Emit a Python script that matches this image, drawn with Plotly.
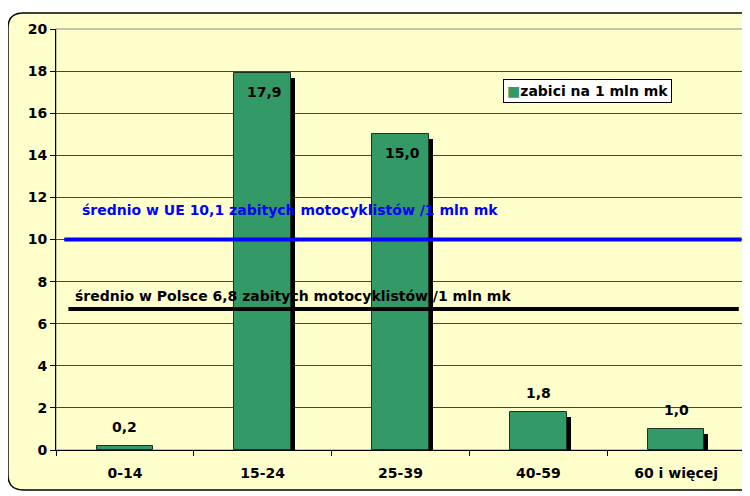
#zabici motocyklisci na 1 mln mieszkancow wg grup wieku
import plotly.graph_objects as go

#data
grupy = ['0-14', '15-24', '25-39', '40-59', '60 i więcej']
zabici = [0.2, 17.9, 15.0, 1.8, 1.0]
etykiety = ['0,2', '17,9', '15,0', '1,8', '1,0']
srednia_ue = 10.0
srednia_pl = 6.7
tekst_ue = 'średnio w UE 10,1 zabitych motocyklistów /1 mln mk'
tekst_pl = 'średnio w Polsce 6,8 zabitych motocyklistów /1 mln mk'
seria = 'zabici na 1 mln mk'
y_ticks = list(range(0, 21, 2))

# wider font, the original text looks stretched
FONT = 'DejaVu Sans, Arial, sans-serif'
GREEN = '#339966'
bar_w = 0.41

fig = go.Figure()

#shadow bars behind the green ones
fig.add_trace(go.Bar(x=grupy, y=[max(v - 0.24, 0) for v in zabici],
                     width=bar_w, offset=-bar_w / 2 + 0.03,
                     marker=dict(color='black', line=dict(width=0)),
                     showlegend=False, hoverinfo='skip'))

fig.add_trace(go.Bar(x=grupy, y=zabici, name=seria, showlegend=False,
                     width=bar_w, offset=-bar_w / 2,
                     marker=dict(color=GREEN, line=dict(color='#1a3326', width=1))))

#value labels, inside the tall bars, above the short ones
for g, v, t in zip(grupy, zabici, etykiety):
    fig.add_annotation(x=g, y=v, text='<b>' + t + '</b>', showarrow=False,
                       yshift=-19 if v > 5 else 19, xshift=2 if v > 5 else 0,
                       font=dict(family=FONT, size=14, color='black'))

#average lines
fig.add_shape(type='line', xref='paper', yref='y', x0=0.012, x1=0.995,
              y0=srednia_ue, y1=srednia_ue, line=dict(color='#0000ff', width=4))
fig.add_shape(type='line', xref='paper', yref='y', x0=0.018, x1=0.991,
              y0=srednia_pl, y1=srednia_pl, line=dict(color='black', width=4))

fig.add_annotation(x=0.34, xref='paper', y=srednia_ue + 1.4, yref='y',
                   text='<b>' + tekst_ue + '</b>', showarrow=False,
                   font=dict(family=FONT, size=14, color='#0000ff'))
fig.add_annotation(x=0.344, xref='paper', y=srednia_pl + 0.62, yref='y',
                   text='<b>' + tekst_pl + '</b>', showarrow=False,
                   font=dict(family=FONT, size=14, color='black'))

#legend box like the excel one
fig.add_annotation(x=0.649, xref='paper', y=0.881, yref='paper',
                   xanchor='left', yanchor='top', showarrow=False, align='left',
                   text='<span style="color:' + GREEN + '">■</span><b>' + seria + '</b>',
                   font=dict(family=FONT, size=14, color='black'),
                   bgcolor='white', bordercolor='black', borderwidth=1, borderpad=3)

#rounded yellow frame round the chart
x0, x1, y0, y1 = -0.0697, 1.03, -0.095, 1.038
rx, ry = 0.022, 0.036
path = (f'M {x0 + rx},{y1} L {x1},{y1} L {x1},{y0} L {x0 + rx},{y0} '
        f'Q {x0},{y0} {x0},{y0 + ry} L {x0},{y1 - ry} Q {x0},{y1} {x0 + rx},{y1} Z')
fig.add_shape(type='path', xref='paper', yref='paper', path=path, layer='below',
              fillcolor='#ffffcc', line=dict(color='black', width=1.5))
#plot area box
fig.add_shape(type='rect', xref='paper', yref='paper', x0=0, x1=1, y0=0, y1=1,
              layer='below', line=dict(color='#888888', width=1))

# page has 8px body margin, so margins are shifted by that
fig.update_layout(width=750, height=496,
    margin=dict(l=48, r=13, t=21, b=54),
    paper_bgcolor='white',
    plot_bgcolor='rgba(0,0,0,0)',
    barmode='overlay',
    bargap=0,
    showlegend=False,
    font=dict(family=FONT, size=13, color='black'))

fig.update_xaxes(type='category', showline=True, linecolor='black', linewidth=1,
                 ticks='outside', tickson='boundaries', ticklen=5, tickcolor='black',
                 ticklabelstandoff=10, showgrid=False,
                 tickfont=dict(family=FONT, size=14, color='black'),
                 tickvals=grupy, ticktext=['<b>' + g + '</b>' for g in grupy])
fig.update_yaxes(range=[0, 20], showline=True, linecolor='black', linewidth=1,
                 ticks='outside', ticklen=5, tickcolor='black',
                 showgrid=True, gridcolor='#444444', gridwidth=1, zeroline=False,
                 tickvals=y_ticks, ticktext=['<b>' + str(t) + '</b>' for t in y_ticks],
                 tickfont=dict(family=FONT, size=14, color='black'))

fig.write_html('out.html')
